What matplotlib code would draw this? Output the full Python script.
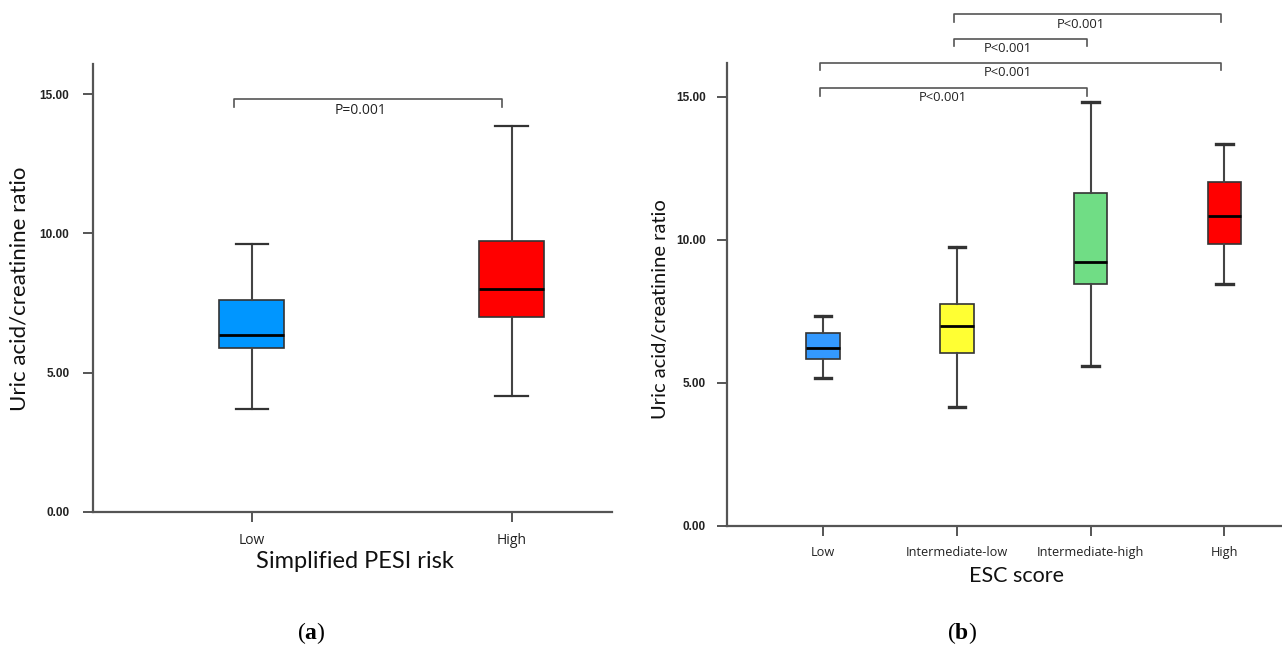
import matplotlib
matplotlib.use("Agg")
import matplotlib.pyplot as plt

plt.rcParams['font.family'] = ['Open Sans', 'DejaVu Sans']
plt.rcParams['mathtext.fontset'] = 'custom'
plt.rcParams['mathtext.rm'] = 'Liberation Serif'
plt.rcParams['mathtext.bf'] = 'Liberation Serif:bold'

# panel (a): Simplified PESI risk
cats_a = ['Low', 'High']
whislo_a = [3.70, 4.15]
q1_a = [5.87, 6.99]
med_a = [6.36, 8.00]
q3_a = [7.61, 9.74]
whishi_a = [9.61, 13.85]
colors_a = ['#0096ff', '#ff0000']

# panel (b): ESC score
cats_b = ['Low', 'Intermediate-low', 'Intermediate-high', 'High']
whislo_b = [5.17, 4.16, 5.58, 8.44]
q1_b = [5.82, 6.05, 8.44, 9.86]
med_b = [6.22, 6.99, 9.22, 10.82]
q3_b = [6.73, 7.74, 11.64, 12.03]
whishi_b = [7.34, 9.76, 14.83, 13.34]
colors_b = ['#3399ff', '#ffff33', '#70dd85', '#ff0000']

# significance brackets: (from, to, label)
pairs_a = [(0, 1, 'P=0.001')]
pairs_b = [(0, 2, 'P<0.001'), (0, 3, 'P<0.001'), (1, 2, 'P<0.001'), (1, 3, 'P<0.001')]

yticks = [0, 5, 10, 15]
ylab = 'Uric acid/creatinine ratio'
spine_c = '#555555'

fig = plt.figure(figsize=(12.82, 6.48), dpi=100)
ax1 = fig.add_axes([0.0725, 0.2103, 0.4045, 0.6909])
ax2 = fig.add_axes([0.5669, 0.1888, 0.4331, 0.7145])


def draw(ax, cats, lo, q1, med, q3, hi, colors, cap_lw):
    stats = []
    for i in range(len(cats)):
        stats.append(dict(whislo=lo[i], q1=q1[i], med=med[i], q3=q3[i], whishi=hi[i], fliers=[]))
    bp = ax.bxp(stats, positions=range(len(cats)), widths=0.25, patch_artist=True,
                showfliers=False, capwidths=0.125,
                boxprops=dict(edgecolor='#333333', linewidth=1.2),
                medianprops=dict(color='black', linewidth=2),
                whiskerprops=dict(color='#444444', linewidth=1.5),
                capprops=dict(color='#333333', linewidth=cap_lw))
    for patch, c in zip(bp['boxes'], colors):
        patch.set_facecolor(c)
    ax.set_xticks(range(len(cats)))
    ax.set_xticklabels(cats)
    ax.set_yticks(yticks)
    ax.set_yticklabels(['%.2f' % v for v in yticks], fontfamily='Liberation Sans',
                       fontweight='bold', fontsize=8.5, color='#222222')
    for s in ['top', 'right']:
        ax.spines[s].set_visible(False)
    for s in ['left', 'bottom']:
        ax.spines[s].set_color(spine_c)
        ax.spines[s].set_linewidth(1.6)
    ax.tick_params(length=7, width=1.4, color=spine_c)


def bracket(ax, x0, x1, y, drop, label, tx, ty, fs):
    ax.plot([x0, x0, x1, x1], [y - drop, y, y, y - drop], color='#555555', lw=1.2, clip_on=False)
    ax.text(tx, ty, label, ha='center', va='center', fontsize=fs, color='#222222', clip_on=False)


draw(ax1, cats_a, whislo_a, q1_a, med_a, q3_a, whishi_a, colors_a, 1.6)
ax1.set_xlim(-0.612, 1.385)
ax1.set_ylim(0, 16.09)
ax1.tick_params(axis='x', labelsize=10, pad=8, labelcolor='#222222')
ax1.tick_params(axis='y', pad=10)
ax1.set_xlabel('Simplified PESI risk', fontfamily='Lato', fontsize=17, color='#111111', va='center')
ax1.xaxis.set_label_coords(0.505, -0.112)
ax1.set_ylabel(ylab, fontfamily='Lato', fontsize=16, color='#111111', va='center')
ax1.yaxis.set_label_coords(-0.141, 0.497)
for a, b, lab in pairs_a:
    bracket(ax1, a - 0.07, b - 0.035, 14.85, 0.31, lab, 0.42, 14.41, 10)

draw(ax2, cats_b, whislo_b, q1_b, med_b, q3_b, whishi_b, colors_b, 2.4)
ax2.set_xlim(-0.72, 3.43)
ax2.set_ylim(0, 16.19)
ax2.tick_params(axis='x', labelsize=9.2, pad=8, labelcolor='#222222')
ax2.tick_params(axis='y', pad=8)
ax2.set_xlabel('ESC score', fontfamily='Lato', fontsize=15.5, color='#111111', va='center')
ax2.xaxis.set_label_coords(0.521, -0.109)
ax2.set_ylabel(ylab, fontfamily='Lato', fontsize=14.5, color='#111111', va='center')
ax2.yaxis.set_label_coords(-0.120, 0.468)

# bracket heights / label positions for panel (b), in data units
br_y = [15.31, 16.19, 17.03, 17.89]
br_tx = [0.894, 1.38, 1.38, 1.93]
br_ty = [14.98, 15.83, 16.69, 17.54]
for (a, b, lab), y, tx, ty in zip(pairs_b, br_y, br_tx, br_ty):
    bracket(ax2, a - 0.025, b - 0.025, y, 0.27, lab, tx, ty, 9.4)

fig.text(311 / 1282, 1 - 633 / 648, r'$\mathrm{(}\mathbf{a}\mathrm{)}$', fontsize=17, ha='center', va='center')
fig.text(962 / 1282, 1 - 633 / 648, r'$\mathrm{(}\mathbf{b}\mathrm{)}$', fontsize=17, ha='center', va='center')

fig.savefig('out.png', dpi=100)
